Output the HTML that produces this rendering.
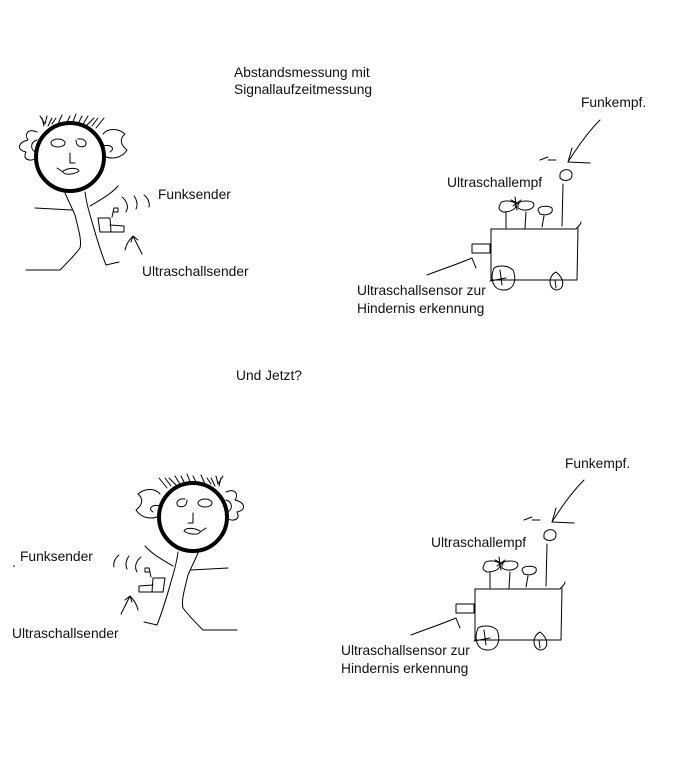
<!DOCTYPE html>
<html><head><meta charset="utf-8"><style>
html,body{margin:0;padding:0;background:#fff;}
svg{display:block;}
text{font-family:"Liberation Sans",sans-serif;font-size:13.8px;fill:#111;}
</style></head><body>
<svg width="681" height="759" viewBox="0 0 681 759" xmlns="http://www.w3.org/2000/svg">
<defs>
<g id="person" fill="none" stroke="#000" stroke-width="1" stroke-linecap="round" stroke-linejoin="round">
  <path d="M40,116 L45,124 M42,118 L44,126 M47,116 L45,124 M52,118 L48,126 M56,118 L52,124 M62,115 L58,124 M70,116 L66,124 M76,114 L72,124 M82,116 L78,124 M88,116 L82,126 M94,118 L86,126 M98,118 L92,126 M104,118 L96,128"/>
  <path d="M37,132 C28,128 24,134 28,140 C18,142 16,150 26,152 C22,160 30,162 37,158"/>
  <path d="M37,140 C30,142 30,150 36,152"/>
  <path d="M103,134 C108,128 118,128 125,134 C118,140 122,146 127,150 C122,158 112,160 104,156"/>
  <path d="M103,146 C110,144 116,148 110,152"/>
  <circle cx="70" cy="157" r="34" stroke-width="4"/>
  <ellipse cx="58" cy="143" rx="7" ry="4"/>
  <path d="M76,140 C76,146 80,148 85,146 C88,142 84,138 78,139"/>
  <path d="M70,153 L70,163 L75,163"/>
  <path d="M57,168 L63,172 C64,175 74,175 79,171 C78,168 70,167 63,171"/>
  <path d="M65,193 C68,200 72,208 75,215 C78,228 82,240 80,248 C74,256 66,264 60,270 L26,270"/>
  <path d="M35,208 L72,210"/>
  <path d="M85,192 C86,200 88,208 90,215 C94,228 98,245 106,265 L119,262"/>
  <path d="M90,206 C100,200 110,195 118,186"/>
  <path d="M98,218 L110,218 L111,232 L100,232 Z"/>
  <path d="M110,225 L124,226 L124,232 L110,232"/>
  <path d="M112,217 L114,208 L118,208 L118,212 L114,212"/>
  <path d="M122,197 C127,201 129,207 126,212"/>
  <path d="M134,196 C137,200 138,205 136,209"/>
  <path d="M144,195 C148,198 150,203 149,207"/>
  <path d="M125,250 C126,245 129,240 133,236 L142,254 M133,236 L131,242 M133,236 L138,240"/>
</g>
<g id="robot" fill="none" stroke="#000" stroke-width="1" stroke-linecap="round" stroke-linejoin="round">
  <path d="M491,229 L576,229 C578,226 581,225 581,222 M578,228 L577,280 L491,280 L491,229"/>
  <path d="M494,268 C490,278 492,290 504,290 C514,290 517,280 513,270 C508,265 498,265 494,268 Z"/>
  <path d="M500,270 L502,285 M490,281 L506,278"/>
  <path d="M556,272 C548,276 548,288 556,290 C564,290 566,280 556,272 Z M555,280 L556,288"/>
  <rect x="472" y="244" width="18" height="9"/>
  <path d="M427,275 C440,270 458,264 472,258 L476,268"/>
  <path d="M562,226 L563,184"/>
  <path d="M560,174 C562,168 572,168 572,175 C572,181 564,182 560,178 Z"/>
  <path d="M600,120 C588,132 578,146 568,162 L590,163 M568,162 L572,148"/>
  <path d="M540,160 L548,157 M548,160 L556,160"/>
  <path d="M500,205 C500,200 510,200 515,203 C518,208 512,212 503,212 C499,210 498,208 500,205 Z M506,212 L506,228"/>
  <path d="M518,204 C520,200 532,200 534,204 C534,210 524,212 518,208 Z M526,212 L525,228"/>
  <path d="M538,210 C538,206 548,205 552,208 C554,214 546,216 540,214 Z M544,216 L542,227"/>
  <path d="M515,197 L517,210 M511,200 L519,204 M521,200 L513,206"/>
</g>
</defs>

<text x="234" y="77">Abstandsmessung mit</text>
<text x="234" y="94">Signallaufzeitmessung</text>

<use href="#person"/>
<text x="158" y="199">Funksender</text>
<text x="142" y="276">Ultraschallsender</text>

<use href="#robot"/>
<text x="581" y="107">Funkempf.</text>
<text x="447" y="187">Ultraschallempf</text>
<text x="357" y="295">Ultraschallsensor  zur</text>
<text x="357" y="313">Hindernis erkennung</text>

<text x="236" y="380">Und Jetzt?</text>

<g transform="translate(263,360) scale(-1,1)"><use href="#person"/></g>
<circle cx="14" cy="566" r="0.8" fill="#000"/>
<text x="20" y="561">Funksender</text>
<text x="12" y="638">Ultraschallsender</text>

<g transform="translate(-16,360)"><use href="#robot"/></g>
<text x="565" y="468">Funkempf.</text>
<text x="431" y="547">Ultraschallempf</text>
<text x="341" y="655">Ultraschallsensor  zur</text>
<text x="341" y="673">Hindernis erkennung</text>
</svg>
</body></html>
